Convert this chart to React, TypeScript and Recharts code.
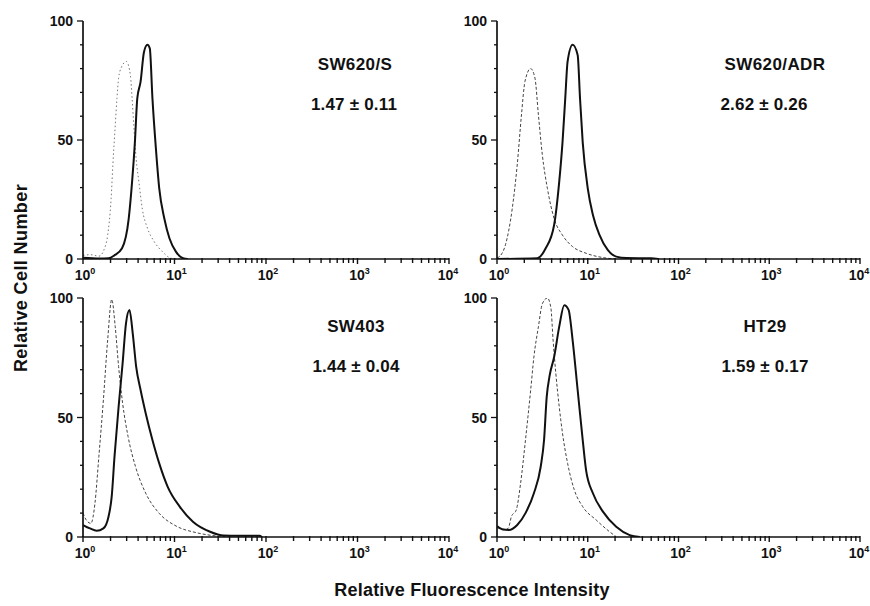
import React from 'react';
import { LineChart, Line, XAxis, YAxis } from 'recharts';

// [intensity, relative cell number]
const SW620S_CONTROL = [[1.0, 1.5], [1.2, 1.8], [1.5, 1.2], [1.7, 4], [1.86, 10], [2.03, 25.5], [2.12, 39.5], [2.25, 56], [2.35, 67.5], [2.45, 76], [2.62, 80.4], [2.98, 83], [3.3, 77], [3.44, 67.5], [3.59, 56], [3.81, 42], [4.08, 32.5], [4.45, 21], [5.06, 13], [6, 7.3], [7.42, 3], [9.2, 0.3], [12, 0]];
const SW620S_DRUG = [[1, 0.5], [1.5, 0.2], [1.9, 0.3], [2.2, 1.5], [2.67, 4.5], [3.16, 17], [3.44, 32.5], [3.69, 49], [3.92, 67.5], [4.26, 74.5], [4.64, 87], [5.06, 90], [5.37, 88.5], [5.74, 67.5], [6.26, 46.5], [6.81, 29.7], [7.74, 17], [8.8, 8.7], [10.4, 3], [12.4, 0.3], [14, 0]];

const SW620ADR_CONTROL = [[1.0, 0.5], [1.09, 1.4], [1.24, 6], [1.47, 21], [1.67, 39.5], [1.86, 60.5], [2.03, 74.5], [2.35, 80], [2.62, 76], [2.86, 60.5], [3.16, 43.7], [3.59, 29.7], [4.26, 17], [5.27, 10], [6.81, 5.2], [9.6, 2.4], [14.7, 0.6], [20.5, 0]];
const SW620ADR_DRUG = [[1, 0], [2.78, 0.3], [3.44, 4.5], [4.26, 14.3], [4.85, 32.5], [5.27, 49], [5.65, 67.5], [6, 83], [6.81, 90], [7.74, 85.7], [8.22, 67.5], [8.8, 49], [10, 29.7], [11.4, 18.5], [13.5, 10], [16.6, 3.8], [20.6, 1], [26.8, 0.4], [50, 0.3], [60, 0]];

const SW403_CONTROL = [[1, 10], [1.09, 7], [1.22, 5.7], [1.35, 14], [1.49, 33.6], [1.67, 57.3], [1.86, 82.4], [2.06, 99.4], [2.25, 88], [2.45, 71.3], [2.71, 56], [3.11, 42], [3.75, 29.4], [4.85, 18.3], [6.81, 9.9], [10.4, 4.6], [17.4, 1.8], [29, 0.4], [40, 0]];
const SW403_DRUG = [[1, 5], [1.19, 3.6], [1.41, 2.6], [1.67, 3.6], [1.9, 8.5], [2.06, 17], [2.21, 33.6], [2.45, 54.5], [2.71, 72.7], [2.95, 89.4], [3.22, 95], [3.5, 85], [3.81, 71.3], [4.26, 61.5], [4.85, 51.7], [5.74, 40.6], [6.81, 30.8], [8.43, 21], [11.4, 12.7], [15.9, 6.4], [24.5, 2.2], [34.4, 0.6], [50, 0.5], [85, 0.5], [90, 0]];

const HT29_CONTROL = [[1, 4], [1.19, 3], [1.33, 3.6], [1.44, 8.5], [1.63, 11.3], [1.82, 22.5], [2.06, 40.6], [2.35, 61.5], [2.55, 75.3], [2.86, 88], [3.16, 97.6], [3.59, 100], [3.92, 96], [4.15, 82.4], [4.45, 68.4], [4.85, 54.5], [5.27, 43.4], [6, 30.8], [7.11, 19.7], [8.8, 12.7], [12.4, 7.1], [17.4, 2.2], [20.6, 0.1]];
const HT29_DRUG = [[1, 4.6], [1.14, 3.2], [1.35, 2.9], [1.67, 5], [2.06, 10], [2.55, 18.3], [3.03, 29.4], [3.3, 40.6], [3.53, 58.6], [3.81, 67.7], [4.26, 75.3], [4.85, 88], [5.51, 97], [6.15, 95], [6.81, 82.4], [7.74, 61.5], [8.65, 43.4], [9.58, 28], [11.4, 18.3], [14.7, 10.6], [20.6, 4.3], [29, 0.8], [37.5, 0]];

const CELL_LINES = ['SW620/S', 'SW620/ADR', 'SW403', 'HT29'];
const RATIOS = ['1.47 ± 0.11', '2.62 ± 0.26', '1.44 ± 0.04', '1.59 ± 0.17'];

const DECADES = [1, 10, 100, 1000, 10000];
const MINOR_STEPS = [2, 3, 4, 5, 6, 7, 8, 9];
const Y_TICKS = [0, 10, 20, 30, 40, 50, 60, 70, 80, 90, 100];
const Y_LABELED = [0, 50, 100];

const X_TICKS = DECADES.flatMap((d, i) =>
  i < DECADES.length - 1 ? [d, ...MINOR_STEPS.map((m) => m * d)] : [d]
);

const toPoints = (arr: number[][]) => arr.map(([x, y]) => ({ x, y }));

const FONT = '"Liberation Sans", Arial, Helvetica, sans-serif';
const INK = '#111';

// x ticks: small mark under the axis, label only on decades
const XTick = ({ x, y, payload }: any) => {
  const lg = Math.log10(payload.value);
  const exp = Math.round(lg);
  const major = Math.abs(lg - exp) < 1e-6;
  return (
    <g>
      <path d={`M${x},${y - 7}L${x},${y - (major ? 1 : 2)}`} stroke={INK} strokeWidth={1.4} fill="none" />
      {major && (
        <text x={exp === 4 ? x - 1 : x + 2} y={y + 15} textAnchor="middle" fontSize={14} fontWeight="bold" fill={INK} fontFamily={FONT}>
          <tspan>10</tspan>
          <tspan dy={-6} fontSize={9}>{exp}</tspan>
        </text>
      )}
    </g>
  );
};

const YTick = ({ x, y, payload }: any) => {
  const major = Y_LABELED.includes(payload.value);
  return (
    <g>
      <path d={`M${x + 3 + (major ? 0 : 3)},${y}L${x + 9},${y}`} stroke={INK} strokeWidth={1.3} fill="none" />
      {major && (
        <text x={x - 1} y={y + 5} textAnchor="end" fontSize={14} fontWeight="bold" fill={INK} fontFamily={FONT}>
          {payload.value}
        </text>
      )}
    </g>
  );
};

const PANELS = [
  { control: SW620S_CONTROL, drug: SW620S_DRUG, left: 0, top: 0, width: 470, margin: { top: 21, right: 21, bottom: 6, left: 43 }, dash: '1.5 2.5', dashColor: '#777', labelX: 355, ratioX: 354, labelY: 65 },
  { control: SW620ADR_CONTROL, drug: SW620ADR_DRUG, left: 430, top: 0, width: 440, margin: { top: 21, right: 10, bottom: 6, left: 27 }, dash: '3 2', dashColor: '#444', labelX: 345, ratioX: 334, labelY: 65 },
  { control: SW403_CONTROL, drug: SW403_DRUG, left: 0, top: 280, width: 470, margin: { top: 18, right: 21, bottom: 8, left: 43 }, dash: '3 2', dashColor: '#444', labelX: 356, ratioX: 356, labelY: 47 },
  { control: HT29_CONTROL, drug: HT29_DRUG, left: 430, top: 280, width: 440, margin: { top: 18, right: 10, bottom: 8, left: 27 }, dash: '3 2', dashColor: '#444', labelX: 335, ratioX: 335, labelY: 47 },
];

const Panel = ({ p, name, ratio }: any) => (
  <div style={{ position: 'absolute', left: p.left, top: p.top, width: p.width, height: 290 }}>
    <LineChart width={p.width} height={290} margin={p.margin}>
      <XAxis
        type="number"
        dataKey="x"
        scale="log"
        domain={[1, 10000]}
        allowDataOverflow
        ticks={X_TICKS}
        interval={0}
        tickSize={6}
        tickMargin={0}
        tickLine={false}
        tick={<XTick />}
        height={25}
        axisLine={{ stroke: INK, strokeWidth: 1.7 }}
      />
      <YAxis
        type="number"
        dataKey="y"
        domain={[0, 100]}
        allowDataOverflow
        ticks={Y_TICKS}
        interval={0}
        tickSize={6}
        tickMargin={3}
        tickLine={false}
        tick={<YTick />}
        width={40}
        axisLine={{ stroke: INK, strokeWidth: 1.7 }}
      />
      <Line
        data={toPoints(p.control)}
        dataKey="y"
        type="monotone"
        stroke={p.dashColor}
        strokeWidth={1}
        strokeDasharray={p.dash}
        dot={false}
        isAnimationActive={false}
      />
      <Line
        data={toPoints(p.drug)}
        dataKey="y"
        type="monotone"
        stroke={INK}
        strokeWidth={2}
        dot={false}
        isAnimationActive={false}
      />
    </LineChart>
    <div style={{ position: 'absolute', left: p.labelX, top: p.labelY, transform: 'translate(-50%, -50%)', fontSize: 17, fontWeight: 'bold', color: INK, whiteSpace: 'nowrap', letterSpacing: 0.4 }}>
      {name}
    </div>
    <div style={{ position: 'absolute', left: p.ratioX, top: p.labelY + 40, transform: 'translate(-50%, -50%)', fontSize: 17, fontWeight: 'bold', color: INK, whiteSpace: 'nowrap', letterSpacing: 0.2 }}>
      {ratio}
    </div>
  </div>
);

export default function App() {
  return (
    <div style={{ position: 'absolute', left: 0, top: 0, width: 870, height: 606, background: '#fff', fontFamily: FONT, overflow: 'hidden' }}>
      {PANELS.map((p, i) => (
        <Panel key={CELL_LINES[i]} p={p} name={CELL_LINES[i]} ratio={RATIOS[i]} />
      ))}
      <div style={{ position: 'absolute', left: 21, top: 278, transform: 'translate(-50%, -50%) rotate(-90deg)', fontSize: 18, fontWeight: 'bold', color: INK, whiteSpace: 'nowrap', letterSpacing: 0.4 }}>
        Relative Cell Number
      </div>
      <div style={{ position: 'absolute', left: 472, top: 590, transform: 'translate(-50%, -50%)', fontSize: 18, fontWeight: 'bold', color: INK, whiteSpace: 'nowrap', letterSpacing: 0.2 }}>
        Relative Fluorescence Intensity
      </div>
    </div>
  );
}
